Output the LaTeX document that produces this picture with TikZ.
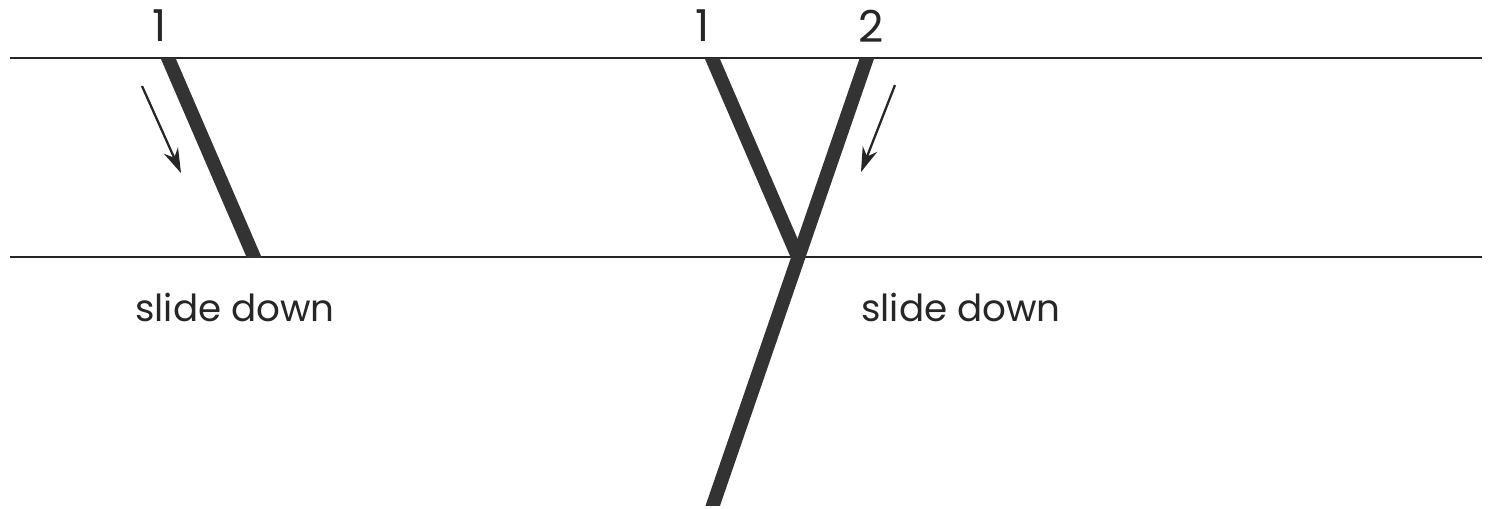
\documentclass[tikz,border=0pt]{standalone}
\usepackage{fontspec}
\setmainfont{Poppins}
\usetikzlibrary{arrows.meta}
\begin{document}
\begin{tikzpicture}[
x=0.01cm,
y=-0.01cm,
layer/.style={line width=0.75pt, black!85},
fault/.style={line width=3.9pt, black!80, shorten <=-10pt, shorten >=-10pt},
arrow/.style={-{Stealth[length=7pt,width=4.4pt]}, line width=0.65pt, black!85},
lbl/.style={font=\fontsize{12.5}{15}\selectfont, text=black!85, inner sep=0pt},
slide/.style={lbl, font=\fontsize{10.6}{13}\selectfont}
]
\useasboundingbox (0,0) rectangle (1493,508);
\coordinate (top left) at (10,58);
\coordinate (top right) at (1482,58);
\coordinate (base left) at (10,257);
\coordinate (base right) at (1482,257);
\draw[layer] (top left) -- (top right);
\draw[layer] (base left) -- (base right);
\coordinate (fa top) at (168,58);
\coordinate (fa bot) at (254,257);
\coordinate (fb top) at (712,58);
\coordinate (junction) at (798,257);
\coordinate (fc top) at (867,58);
\coordinate (fc bot) at (713,505);
\begin{scope}
\clip (0,58) rectangle (1493,257);
\draw[fault] (fa top) -- (fa bot);
\end{scope}
\begin{scope}
\clip (0,58) rectangle (1493,505);
\draw[fault, shorten >=0pt] (fb top) -- (junction);
\draw[fault] (fc top) -- (fc bot);
\end{scope}
\coordinate (sa from) at (142,86);
\coordinate (sa to) at (181,173);
\coordinate (sc from) at (895,85);
\coordinate (sc to) at (861,172);
\draw[arrow] (sa from) -- (sa to);
\draw[arrow] (sc from) -- (sc to);
\node[lbl] (fa label) at (160,26) {1};
\node[lbl] (fb label) at (703,26) {1};
\node[lbl] (fc label) at (871,26) {2};
\node[slide] (slide a) at (235,307) {slide down};
\node[slide] (slide c) at (961,307) {slide down};
\end{tikzpicture}
\end{document}
